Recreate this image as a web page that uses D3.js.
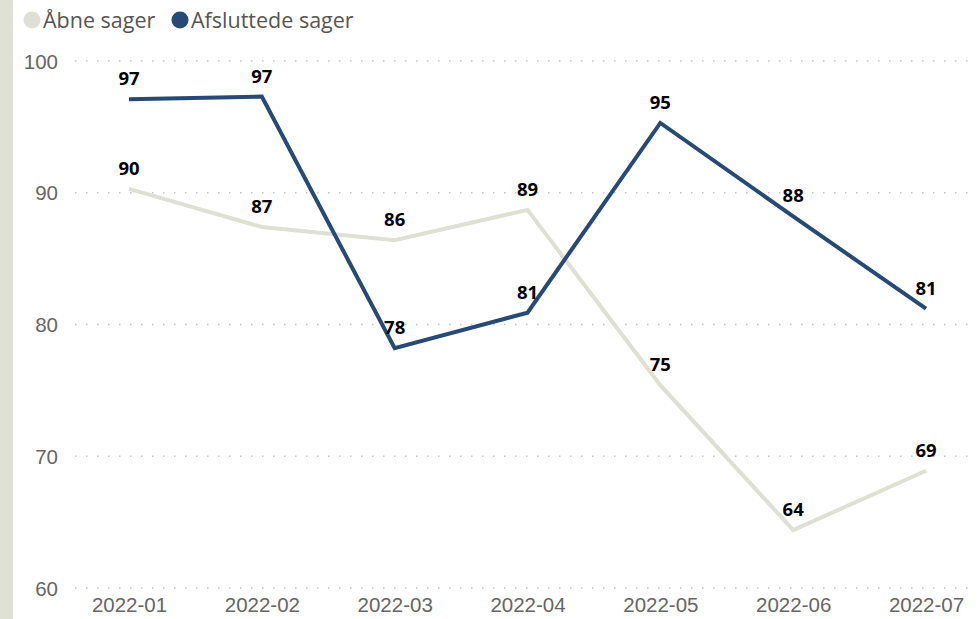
<!DOCTYPE html>
<html>
<head>
<meta charset="utf-8">
<script src="https://cdn.jsdelivr.net/npm/d3@7"></script>
<style>
  body { margin: 0; background: #fff; }
  .tick text { font-family: "Liberation Sans", Arial, sans-serif; font-size: 20.5px; fill: #666; }
  .grid line { stroke: #c4c4c4; stroke-width: 1.5; stroke-dasharray: 1.5 9.5; }
  .label { font-family: "Open Sans", "Noto Sans", sans-serif; font-weight: bold; font-size: 18.5px; fill: #000; text-anchor: middle; }
  .legend text { font-family: "Open Sans", "Noto Sans", sans-serif; font-size: 21.5px; fill: #555; }
</style>
</head>
<body>
<div id="chart"></div>
<script>
const months = ['2022-01', '2022-02', '2022-03', '2022-04', '2022-05', '2022-06', '2022-07']
const aabne = [90.3, 87.4, 86.4, 88.7, 75.4, 64.4, 68.9]
const afsluttede = [97.1, 97.3, 78.2, 80.9, 95.3, 88.2, 81.2]
const yTicks = [60, 70, 80, 90, 100]

const series = [
  { name: 'Åbne sager', values: aabne, color: '#dfe0d4' },
  { name: 'Afsluttede sager', values: afsluttede, color: '#264a75' }
]

const width = 980
const height = 619

const svg = d3.select('#chart')
  .append('svg')
  .attr('width', width)
  .attr('height', height)

// left side band
svg.append('rect')
  .attr('x', 0).attr('y', 0)
  .attr('width', 13).attr('height', height)
  .attr('fill', '#dfe1d5')

const x = d3.scalePoint()
  .domain(months)
  .range([129, 926])

const y = d3.scaleLinear()
  .domain([60, 100])
  .range([588, 61])

// gridlines
svg.append('g')
  .attr('class', 'grid')
  .selectAll('line')
  .data(yTicks)
  .enter().append('line')
    .attr('x1', 75)
    .attr('x2', 975)
    .attr('y1', d => y(d))
    .attr('y2', d => y(d))

// y axis
const yAxis = svg.append('g')
  .attr('transform', 'translate(58,0)')
  .call(d3.axisLeft(y).tickValues(yTicks).tickSize(0).tickPadding(0))
yAxis.select('.domain').remove()
yAxis.selectAll('text').attr('dy', '0.35em')

// x axis
const xAxis = svg.append('g')
  .attr('transform', 'translate(0,597)')
  .call(d3.axisBottom(x).tickSize(0).tickPadding(0))
xAxis.select('.domain').remove()
xAxis.selectAll('text').attr('dy', '0.75em')

const line = d3.line()
  .x((d, i) => x(months[i]))
  .y(d => y(d))

series.forEach(s => {
  svg.append('path')
    .datum(s.values)
    .attr('fill', 'none')
    .attr('stroke', s.color)
    .attr('stroke-width', 4)
    .attr('stroke-linejoin', 'miter')
    .attr('d', line)
})

// data labels drawn after both lines
series.forEach(s => {
  svg.append('g')
    .selectAll('text')
    .data(s.values)
    .enter().append('text')
      .attr('class', 'label')
      .attr('x', (d, i) => x(months[i]))
      .attr('y', d => y(d) - 14)
      .text(d => Math.round(d))
})

// legend
const legend = svg.append('g').attr('class', 'legend')
const legendX = [32, 180]
series.forEach((s, i) => {
  legend.append('circle')
    .attr('cx', legendX[i])
    .attr('cy', 20)
    .attr('r', 8.5)
    .attr('fill', s.color)
  legend.append('text')
    .attr('x', legendX[i] + 11)
    .attr('y', 28)
    .text(s.name)
})
</script>
</body>
</html>
